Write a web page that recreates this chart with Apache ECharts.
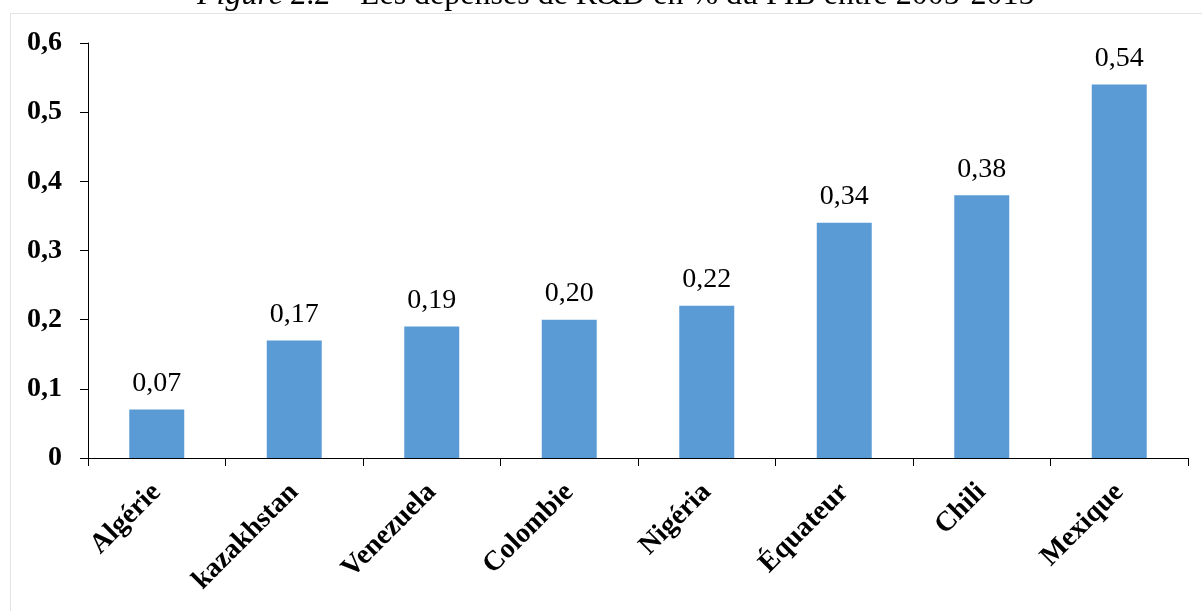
<!DOCTYPE html>
<html>
<head>
<meta charset="utf-8">
<title>Dépenses de R&amp;D en % du PIB</title>
<script src="https://cdn.jsdelivr.net/npm/echarts@6/dist/echarts.min.js"></script>
<style>
  html, body { margin: 0; padding: 0; background: #ffffff; }
  #chart { width: 1203px; height: 611px; }
</style>
</head>
<body>
<div id="chart"></div>
<script>
// R&D spending as % of GDP, 2005-2015
const countries = ['Algérie', 'kazakhstan', 'Venezuela', 'Colombie', 'Nigéria', 'Équateur', 'Chili', 'Mexique'];
const rdShare = [0.07, 0.17, 0.19, 0.20, 0.22, 0.34, 0.38, 0.54];
const yTicks = [0, 0.1, 0.2, 0.3, 0.4, 0.5, 0.6];

const serif = '"Liberation Serif", "Times New Roman", serif';
const comma = (v, digits) => v.toFixed(digits).replace('.', ',');

const chart = echarts.init(document.getElementById('chart'), null, { renderer: 'canvas' });

chart.setOption({
  animation: false,
  backgroundColor: '#ffffff',
  title: {
    text: '{it|Figure 2.2} {rg|– Les dépenses de R&D en % du PIB entre 2005-2015}',
    left: 197,
    top: -20,
    padding: 0,
    textStyle: {
      fontWeight: 'normal',
      rich: {
        it: { fontFamily: serif, fontSize: 32, fontStyle: 'italic', fontWeight: 'normal', color: '#000' },
        rg: { fontFamily: serif, fontSize: 32, fontWeight: 'normal', color: '#000' }
      }
    }
  },
  graphic: [
    { type: 'line', silent: true, shape: { x1: 10, y1: 13.5, x2: 1202, y2: 13.5 }, style: { stroke: '#e3e3e3', lineWidth: 1 } },
    { type: 'line', silent: true, shape: { x1: 10.5, y1: 13, x2: 10.5, y2: 611 }, style: { stroke: '#e3e3e3', lineWidth: 1 } }
  ],
  grid: { left: 88, right: 15, top: 43, bottom: 153, containLabel: false },
  xAxis: {
    type: 'category',
    data: countries,
    axisLine: { lineStyle: { color: '#000', width: 1 } },
    axisTick: { show: true, length: 8, lineStyle: { color: '#000' } },
    axisLabel: {
      rotate: 45,
      margin: 30,
      interval: 0,
      fontFamily: serif,
      fontSize: 28,
      fontWeight: 'bold',
      color: '#000'
    }
  },
  yAxis: {
    type: 'value',
    min: yTicks[0],
    max: yTicks[yTicks.length - 1],
    interval: 0.1,
    splitLine: { show: false },
    axisLine: { show: true, lineStyle: { color: '#000', width: 1 } },
    axisTick: { show: true, length: 8, lineStyle: { color: '#000' } },
    axisLabel: {
      margin: 26,
      fontFamily: serif,
      fontSize: 28,
      fontWeight: 'bold',
      color: '#000',
      formatter: v => (v === 0 ? '0' : comma(v, 1))
    }
  },
  series: [{
    type: 'bar',
    data: rdShare,
    barWidth: '40%',
    itemStyle: { color: '#5B9BD5' },
    label: {
      show: true,
      position: 'top',
      distance: 12,
      fontFamily: serif,
      fontSize: 28,
      color: '#000',
      formatter: p => comma(p.value, 2)
    }
  }]
});
</script>
</body>
</html>
